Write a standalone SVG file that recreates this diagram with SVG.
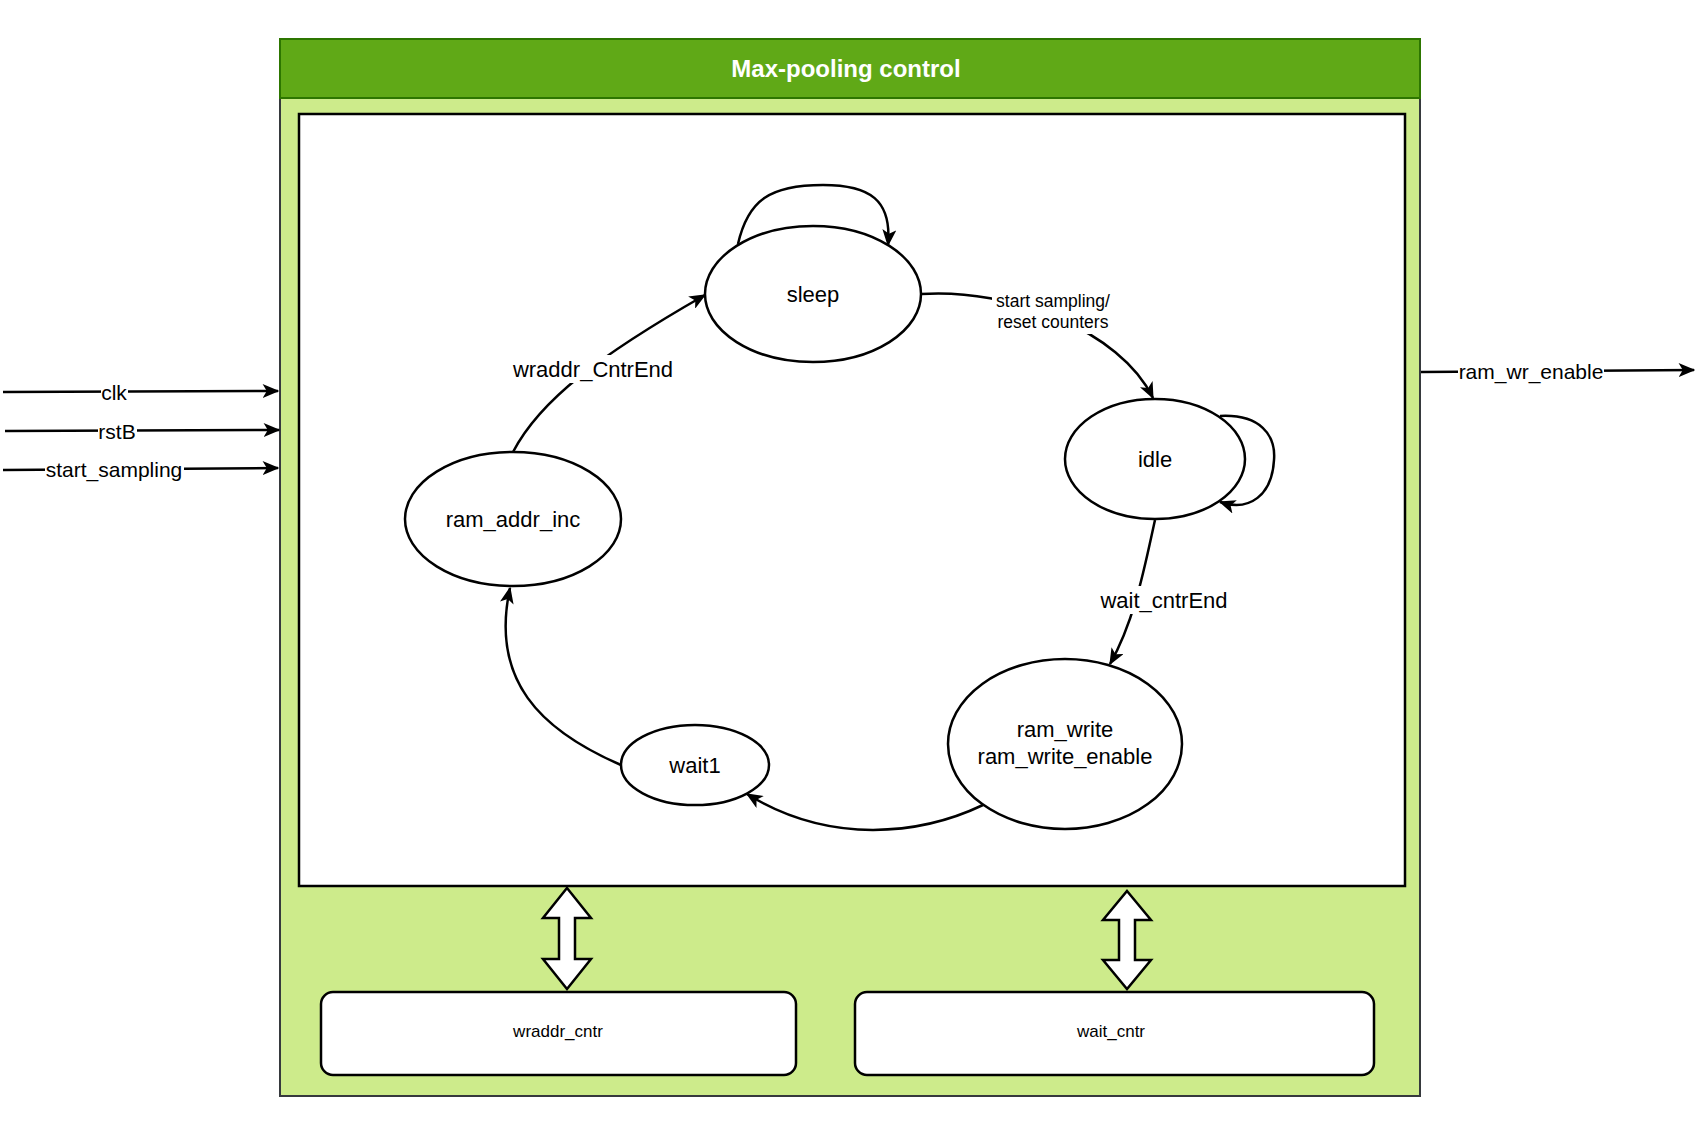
<svg xmlns="http://www.w3.org/2000/svg" width="1703" height="1126" viewBox="0 0 1703 1126">
<style>
text{font-family:"Liberation Sans",Arial,sans-serif;fill:#000}
.st{fill:#fff;stroke:#000;stroke-width:2.5}
.sl{font-size:22px;text-anchor:middle;dominant-baseline:central}
.el{fill:none;stroke:#000;stroke-width:2.5}
.io{font-size:21px;text-anchor:middle;dominant-baseline:central}
.bg{fill:#fff}
.cnt{fill:#fff;stroke:#000;stroke-width:2.5}
.blk{fill:#fff;stroke:#000;stroke-width:2.5;stroke-linejoin:miter}
</style>
<defs>
<marker id="arr" viewBox="0 0 12 10" refX="11" refY="5" markerWidth="17" markerHeight="14" orient="auto" markerUnits="userSpaceOnUse">
<path d="M0,0 L12,5 L0,10 L3,5 Z" fill="#000"/>
</marker>
</defs>
<rect width="1703" height="1126" fill="#fff"/>
<g id="container">
<rect x="280" y="39" width="1140" height="1057" fill="#cdeb8b" stroke="#36393d" stroke-width="2"/>
<rect x="280" y="39" width="1140" height="59" fill="#60a917" stroke="#2d7600" stroke-width="2"/>
<text x="846" y="68" font-size="24" font-weight="bold" text-anchor="middle" dominant-baseline="central" style="fill:#fff">Max-pooling control</text>
<rect x="299" y="114" width="1106" height="772" fill="#fff" stroke="#000" stroke-width="2.5"/>
</g>
<g id="connectors">
<path class="el" d="M738,244 C748,200 770,185 823,185 C870,185 892,200 888,245" marker-end="url(#arr)"/>
<path class="el" d="M921,294 C1010,288 1120,330 1153,398" marker-end="url(#arr)"/>
<path class="el" d="M1220,416 C1260,414 1276,435 1274,460 C1272,495 1250,512 1220,502" marker-end="url(#arr)"/>
<path class="el" d="M1155,520 C1145,565 1135,620 1110,664" marker-end="url(#arr)"/>
<path class="el" d="M983,805 C920,835 830,845 747,794" marker-end="url(#arr)"/>
<path class="el" d="M621,765 C540,730 490,680 510,588" marker-end="url(#arr)"/>
<path class="el" d="M513,452 C540,400 600,355 705,295" marker-end="url(#arr)"/>
<rect class="bg" x="992" y="288" width="122" height="46"/>
<text x="1053" y="301" font-size="17.5" text-anchor="middle" dominant-baseline="central">start sampling/</text>
<text x="1053" y="322" font-size="17.5" text-anchor="middle" dominant-baseline="central">reset counters</text>
<rect class="bg" x="1097" y="586" width="134" height="28"/>
<text class="sl" x="1164" y="600">wait_cntrEnd</text>
<rect class="bg" x="509" y="355" width="168" height="28"/>
<text class="sl" x="593" y="369">wraddr_CntrEnd</text>
<path class="el" d="M3,392 L278,391" marker-end="url(#arr)"/>
<rect class="bg" x="101" y="380" width="27" height="24"/>
<text class="io" x="114" y="392">clk</text>
<path class="el" d="M5,431 L279,430" marker-end="url(#arr)"/>
<rect class="bg" x="98" y="419" width="39" height="24"/>
<text class="io" x="117" y="431">rstB</text>
<path class="el" d="M3,470 L278,468" marker-end="url(#arr)"/>
<rect class="bg" x="45" y="457" width="139" height="24"/>
<text class="io" x="114" y="469">start_sampling</text>
<path class="el" d="M1421,372 L1694,370" marker-end="url(#arr)"/>
<rect class="bg" x="1458" y="359" width="146" height="24"/>
<text class="io" x="1531" y="371">ram_wr_enable</text>
<polygon class="blk" points="567,888 591,918 575,918 575,959 591,959 567,989 543,959 559,959 559,918 543,918"/>
<polygon class="blk" points="1127,891 1151,920 1135,920 1135,960 1151,960 1127,989 1103,960 1119,960 1119,920 1103,920"/>
</g>
<g id="sleep">
<ellipse class="st" cx="813" cy="294" rx="108" ry="68"/>
<text class="sl" x="813" y="294">sleep</text>
</g>
<g id="idle">
<ellipse class="st" cx="1155" cy="459" rx="90" ry="60"/>
<text class="sl" x="1155" y="459">idle</text>
</g>
<g id="ram_addr_inc">
<ellipse class="st" cx="513" cy="519" rx="108" ry="67"/>
<text class="sl" x="513" y="519">ram_addr_inc</text>
</g>
<g id="ram_write">
<ellipse class="st" cx="1065" cy="744" rx="117" ry="85"/>
<text class="sl" x="1065" y="729">ram_write</text>
<text class="sl" x="1065" y="756">ram_write_enable</text>
</g>
<g id="wait1">
<ellipse class="st" cx="695" cy="765" rx="74" ry="40"/>
<text class="sl" x="695" y="765">wait1</text>
</g>
<g id="wraddr_cntr">
<rect class="cnt" x="321" y="992" width="475" height="83" rx="12"/>
<text x="558" y="1031" font-size="17" text-anchor="middle" dominant-baseline="central">wraddr_cntr</text>
</g>
<g id="wait_cntr">
<rect class="cnt" x="855" y="992" width="519" height="83" rx="12"/>
<text x="1111" y="1031" font-size="17" text-anchor="middle" dominant-baseline="central">wait_cntr</text>
</g>
</svg>
